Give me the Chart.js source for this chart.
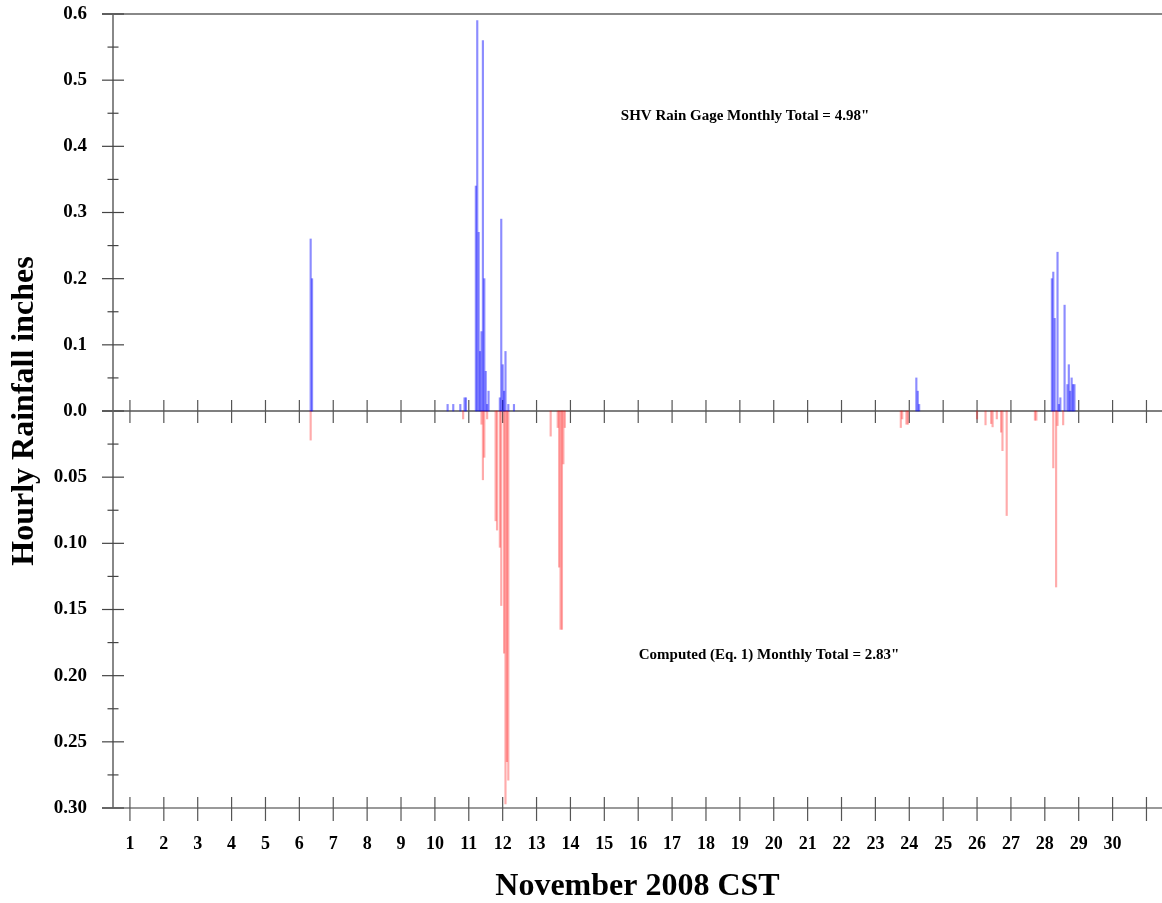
<!DOCTYPE html>
<html><head><meta charset="utf-8">
<script src="https://cdn.jsdelivr.net/npm/chart.js@4.4.1/dist/chart.umd.min.js"></script>
<style>html,body{margin:0;padding:0;background:#fff}canvas{display:block}</style>
</head><body>
<canvas id="c" width="1162" height="903"></canvas>
<script>
// Hours are counted from 1 November 2008 00:00 CST
const gageHours = [128,129, 225,229,234,237,238, 245,246,247,248,249,250,251,252,253,254, 262,263,264,265,266,268,272, 557,558,559, 653,654,655,657,658,659,662,664,665,666,667,668,669];
const gageValues = [0.26,0.20, 0.01,0.01,0.01,0.02,0.02, 0.34,0.59,0.27,0.09,0.12,0.56,0.20,0.06,0.01,0.03, 0.02,0.29,0.07,0.03,0.09,0.01,0.01, 0.05,0.03,0.01, 0.20,0.21,0.14,0.24,0.01,0.02,0.16,0.04,0.07,0.03,0.05,0.04,0.04];
const computedHours = [128, 236, 249,250,251,253, 259,260,262,263,265,266,267,268, 298,303,304,305,306,307,308, 546,547,550,551, 600,606,610,611,614,617,618,621, 641,642,654,656,657,661];
const computedValues = [0.022, 0.006, 0.010,0.052,0.035,0.006, 0.083,0.090,0.103,0.147,0.183,0.297,0.265,0.279, 0.019,0.0125,0.118,0.165,0.165,0.040,0.0125, 0.0125,0.006,0.010,0.010, 0.006,0.0105,0.0095,0.012,0.006,0.016,0.030,0.079, 0.007,0.007,0.043,0.133,0.011,0.0105];
const dayLabels = ['1','2','3','4','5','6','7','8','9','10','11','12','13','14','15','16','17','18','19','20','21','22','23','24','25','26','27','28','29','30'];
const upperTickLabels = ['0.0','0.1','0.2','0.3','0.4','0.5','0.6'];
const lowerTickLabels = ['0.05','0.10','0.15','0.20','0.25','0.30'];
const gageTotalText = 'SHV Rain Gage Monthly Total = 4.98"';
const computedTotalText = 'Computed (Eq. 1) Monthly Total = 2.83"';
const xTitleText = 'November 2008 CST';
const yTitleText = 'Hourly Rainfall inches';

const FONT = '"Liberation Serif", "Times New Roman", serif';
const near = (a, b) => Math.abs(a - b) < 1e-6;

function yLabel(v) {
  const k = Math.round(v * 10);
  if (!near(v * 10, k)) return '';
  if (k >= 0) return upperTickLabels[k] || '';
  return lowerTickLabels[-k - 1] || '';
}
function xLabel(v) {
  const k = Math.round(v / 24);
  if (!near(v / 24, k)) return '';
  return dayLabels[k] || '';
}
function noPad(s) { s.paddingTop = 0; s.paddingBottom = 0; s.paddingLeft = 0; s.paddingRight = 0; }

const axesPlugin = {
  id: 'axesDraw',
  beforeDatasetsDraw(chart) {
    const {ctx, chartArea: a, scales: {x, y}} = chart;
    ctx.save();
    const seg = (x1, y1, x2, y2, col, w) => {
      ctx.strokeStyle = col; ctx.lineWidth = w;
      ctx.beginPath(); ctx.moveTo(x1, y1); ctx.lineTo(x2, y2); ctx.stroke();
    };
    const L = a.left - 11;
    const yTop = y.getPixelForValue(y.max), y0 = y.getPixelForValue(0), yBot = y.getPixelForValue(y.min);
    seg(L, yTop, a.right, yTop, '#888', 2);
    seg(L, y0, a.right, y0, '#555', 1.3);
    seg(L, yBot, a.right, yBot, '#777', 1.5);
    seg(a.left, yTop, a.left, yBot, '#888', 2);
    y.ticks.forEach(t => {
      const py = y.getPixelForValue(t.value);
      if (yLabel(t.value) !== '') seg(a.left - 11, py, a.left + 11, py, '#444', 1.2);
      else seg(a.left - 5.5, py, a.left + 5.5, py, '#444', 1.2);
    });
    x.ticks.forEach(t => {
      const px = x.getPixelForValue(t.value);
      seg(px, y0 - 11, px, y0 + 12, '#555', 1.2);
      seg(px, yBot - 11, px, yBot + 13, '#555', 1.2);
    });
    ctx.restore();
  },
  afterDraw(chart) {
    const {ctx} = chart;
    ctx.save();
    ctx.fillStyle = '#000';
    ctx.textAlign = 'center';
    ctx.textBaseline = 'middle';
    ctx.font = 'bold 15px ' + FONT;
    ctx.fillText(gageTotalText, 745, 116);
    ctx.fillText(computedTotalText, 769, 655);
    ctx.restore();
  }
};

new Chart(document.getElementById('c'), {
  type: 'bar',
  data: {
    datasets: [
      {
        label: 'SHV Rain Gage',
        data: gageHours.map((h, i) => ({x: h, y: gageValues[i]})),
        backgroundColor: 'rgba(0,0,255,0.45)',
        borderWidth: 0,
        yAxisID: 'y',
        barThickness: 1.5,
        grouped: false
      },
      {
        label: 'Computed (Eq. 1)',
        data: computedHours.map((h, i) => ({x: h, y: computedValues[i]})),
        backgroundColor: 'rgba(255,0,0,0.33)',
        borderWidth: 0,
        yAxisID: 'yr',
        barThickness: 1.5,
        grouped: false
      }
    ]
  },
  options: {
    responsive: false,
    animation: false,
    devicePixelRatio: 1,
    layout: {padding: {top: 14, right: 0, bottom: 0, left: 0}},
    plugins: {legend: {display: false}, tooltip: {enabled: false}},
    scales: {
      x: {
        type: 'linear',
        offset: false,
        min: -12,
        max: 731,
        grid: {display: false, offset: false},
        border: {display: false},
        afterBuildTicks: s => { s.ticks = Array.from({length: 31}, (_, i) => ({value: i * 24})); },
        ticks: {
          autoSkip: false,
          maxRotation: 0,
          padding: 18,
          color: '#000',
          font: {family: FONT, size: 18, weight: 'bold'},
          callback: v => xLabel(v)
        },
        title: {
          display: true,
          text: xTitleText,
          color: '#000',
          font: {family: FONT, size: 32, weight: 'bold', lineHeight: 1.0},
          padding: {top: 0, bottom: 0}
        },
        afterFit: s => { s.height = 95; noPad(s); }
      },
      y: {
        type: 'linear',
        position: 'left',
        min: -0.6,
        max: 0.6,
        grid: {display: false},
        border: {display: false},
        afterBuildTicks: s => { s.ticks = Array.from({length: 25}, (_, i) => ({value: Math.round((i - 12) * 5) / 100})); },
        ticks: {
          autoSkip: false,
          padding: 18,
          color: '#000',
          font: {family: FONT, size: 19, weight: 'bold'},
          callback: v => yLabel(v)
        },
        title: {
          display: true,
          text: yTitleText,
          color: '#000',
          font: {family: FONT, size: 32, weight: 'bold'},
          padding: {top: 6, bottom: 0}
        },
        afterFit: s => { s.width = 113; noPad(s); }
      },
      yr: {
        type: 'linear',
        display: false,
        reverse: true,
        min: -0.3,
        max: 0.3
      }
    }
  },
  plugins: [axesPlugin]
});
</script>
</body></html>
